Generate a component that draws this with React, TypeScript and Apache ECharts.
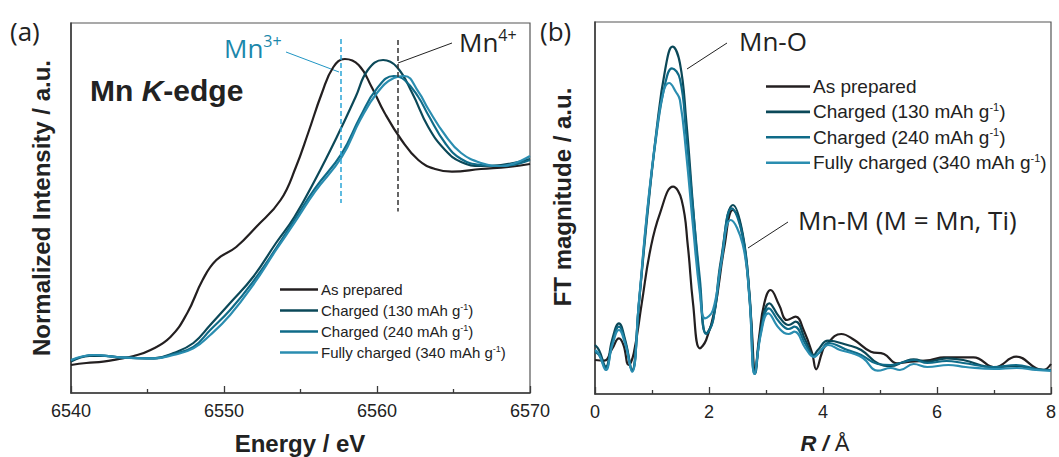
import React, { useEffect, useRef } from "react";
import * as echarts from "echarts";

// ---------- Panel (a): Mn K-edge XANES ----------
const energyAsPrepared = [6540, 6541, 6542.1, 6543, 6544.1, 6545.2, 6546.5, 6547.6, 6548.6, 6549.5, 6550.8, 6552.1, 6553.7, 6554.7, 6555.5, 6556.4, 6557.15, 6557.9, 6558.8, 6559.65, 6560.5, 6561.6, 6562.7, 6563.8, 6564.9, 6566.8, 6568.6, 6570];
const intensityAsPrepared = [-0.01, 0.0, 0.007, 0.018, 0.035, 0.065, 0.13, 0.25, 0.415, 0.515, 0.58, 0.68, 0.815, 0.98, 1.15, 1.35, 1.48, 1.52, 1.49, 1.38, 1.25, 1.115, 1.015, 0.97, 0.957, 0.97, 0.98, 0.995];

const energyCharged130 = [6540, 6541.2, 6542.2, 6543.2, 6545.4, 6546.7, 6548.0, 6549.1, 6550.4, 6551.9, 6553.4, 6554.6, 6555.95, 6557.5, 6558.6, 6559.4, 6560.4, 6561.3, 6562.3, 6563.35, 6564.45, 6565.5, 6566.8, 6568.1, 6570];
const intensityCharged130 = [0.007, 0.035, 0.036, 0.028, 0.023, 0.05, 0.1, 0.19, 0.3, 0.43, 0.6, 0.73, 0.915, 1.15, 1.33, 1.465, 1.515, 1.48, 1.35, 1.18, 1.065, 1.005, 0.985, 0.99, 1.02];

const energyCharged240 = [6540, 6541.5, 6543.2, 6545.4, 6546.7, 6548.0, 6549.1, 6550.4, 6551.9, 6553.4, 6554.6, 6555.95, 6557.7, 6558.9, 6560.0, 6561.1, 6561.8, 6562.7, 6563.35, 6564.45, 6565.5, 6566.8, 6568.1, 6570];
const intensityCharged240 = [0.012, 0.04, 0.028, 0.023, 0.045, 0.08, 0.165, 0.265, 0.407, 0.573, 0.715, 0.873, 1.048, 1.23, 1.373, 1.435, 1.415, 1.33, 1.24, 1.1, 1.02, 0.99, 0.985, 1.015];

const energyFully = [6540, 6541.5, 6543.2, 6545.4, 6546.7, 6548.0, 6549.1, 6550.4, 6551.9, 6553.4, 6554.6, 6555.95, 6557.7, 6558.9, 6560.0, 6561.1, 6561.8, 6562.7, 6563.35, 6564.45, 6565.5, 6566.8, 6568.1, 6570];
const intensityFully = [0.015, 0.04, 0.028, 0.023, 0.04, 0.073, 0.14, 0.24, 0.39, 0.565, 0.7, 0.857, 1.03, 1.215, 1.35, 1.425, 1.435, 1.357, 1.27, 1.14, 1.05, 1.0, 0.985, 1.035];

// Reference edge positions (Mn3+, Mn4+) and the extent of their dashed markers
const markerEnergies = [6557.6, 6561.35];
const markerTop = [1.62, 1.615];
const markerBottom = [0.8, 0.757];

// ---------- Panel (b): FT-EXAFS ----------
const rAsPrepared = [0, 0.16, 0.3, 0.42, 0.5, 0.59, 0.68, 0.82, 0.97, 1.14, 1.37, 1.52, 1.63, 1.72, 1.84, 1.95, 2.1, 2.27, 2.42, 2.53, 2.65, 2.74, 2.81, 2.88, 2.97, 3.08, 3.23, 3.37, 3.52, 3.66, 3.81, 3.88, 3.98, 4.03, 4.32, 4.55, 4.84, 5.07, 5.3, 5.54, 5.88, 6.12, 6.64, 7.01, 7.39, 7.74, 7.86, 8.0];
const ftAsPrepared = [0.34, 0.333, 0.45, 0.557, 0.49, 0.29, 0.407, 0.907, 1.44, 1.807, 2.073, 1.94, 1.473, 0.907, 0.457, 0.54, 0.84, 1.473, 1.84, 1.74, 1.34, 0.74, 0.24, 0.573, 0.907, 1.04, 0.89, 0.74, 0.773, 0.64, 0.407, 0.247, 0.41, 0.473, 0.6, 0.54, 0.423, 0.4, 0.307, 0.323, 0.34, 0.367, 0.367, 0.267, 0.373, 0.257, 0.24, 0.3];

const rCharged130 = [0, 0.07, 0.19, 0.3, 0.42, 0.53, 0.65, 0.77, 0.91, 1.08, 1.23, 1.36, 1.49, 1.6, 1.72, 1.84, 1.95, 2.07, 2.21, 2.42, 2.59, 2.71, 2.81, 2.91, 3.06, 3.23, 3.4, 3.52, 3.69, 3.84, 3.91, 4.09, 4.43, 4.67, 4.96, 5.19, 5.42, 5.59, 5.83, 6.17, 6.46, 6.99, 7.39, 7.74, 8.0];
const ftCharged130 = [0.49, 0.44, 0.273, 0.54, 0.707, 0.54, 0.24, 0.907, 1.74, 2.64, 3.24, 3.473, 3.307, 2.74, 1.873, 1.073, 0.607, 0.74, 1.34, 1.89, 1.607, 1.007, 0.207, 0.64, 0.907, 0.773, 0.69, 0.723, 0.54, 0.39, 0.44, 0.533, 0.49, 0.44, 0.307, 0.28, 0.323, 0.347, 0.323, 0.357, 0.34, 0.267, 0.28, 0.247, 0.24];

const rCharged240 = [0, 0.07, 0.19, 0.3, 0.42, 0.53, 0.65, 0.77, 0.91, 1.08, 1.23, 1.35, 1.49, 1.6, 1.72, 1.84, 1.95, 2.07, 2.21, 2.4, 2.59, 2.71, 2.8, 2.91, 3.05, 3.23, 3.4, 3.5, 3.69, 3.84, 3.95, 4.09, 4.43, 4.67, 4.96, 5.19, 5.42, 5.6, 5.83, 6.17, 6.46, 6.99, 7.39, 7.74, 8.0];
const ftCharged240 = [0.42, 0.39, 0.26, 0.5, 0.673, 0.52, 0.23, 0.9, 1.78, 2.6, 3.1, 3.257, 3.15, 2.6, 1.85, 1.15, 0.6, 0.73, 1.3, 1.857, 1.58, 0.98, 0.2, 0.62, 0.857, 0.723, 0.65, 0.673, 0.5, 0.38, 0.42, 0.51, 0.44, 0.39, 0.3, 0.29, 0.32, 0.34, 0.31, 0.33, 0.31, 0.27, 0.29, 0.25, 0.24];

const rFully = [0, 0.07, 0.19, 0.3, 0.42, 0.53, 0.65, 0.77, 0.91, 1.08, 1.2, 1.3, 1.42, 1.49, 1.6, 1.72, 1.84, 1.93, 2.07, 2.21, 2.38, 2.59, 2.71, 2.8, 2.91, 3.04, 3.23, 3.4, 3.5, 3.69, 3.84, 3.98, 4.09, 4.3, 4.5, 4.7, 4.96, 5.19, 5.35, 5.59, 5.83, 6.2, 6.5, 7.0, 7.4, 7.74, 8.0];
const ftFully = [0.44, 0.4, 0.24, 0.48, 0.64, 0.5, 0.22, 0.92, 1.8, 2.62, 3.02, 3.11, 3.02, 2.94, 2.407, 1.673, 1.007, 0.757, 0.84, 1.3, 1.74, 1.5, 0.95, 0.2, 0.6, 0.807, 0.657, 0.6, 0.623, 0.46, 0.37, 0.45, 0.49, 0.44, 0.41, 0.36, 0.233, 0.26, 0.24, 0.3, 0.27, 0.29, 0.27, 0.25, 0.26, 0.24, 0.23];

const seriesNames = ["As prepared", "Charged (130 mAh g-1)", "Charged (240 mAh g-1)", "Fully charged (340 mAh g-1)"];
const legendLabels = ["As prepared", "Charged (130 mAh g{sup|-1})", "Charged (240 mAh g{sup|-1})", "Fully charged (340 mAh g{sup|-1})"];
const seriesColors = ["#231f20", "#0b4858", "#0f6b88", "#2a8db0"];

const energyTicks = { min: 6540, max: 6570, interval: 10 };
const rTicks = { min: 0, max: 8, interval: 2 };

const SANS = "'Liberation Sans', Arial, sans-serif";
const OPEN = "'Open Sans', 'DejaVu Sans', sans-serif";

const pairs = (xs: number[], ys: number[]) => xs.map((x, i) => [x, ys[i]]);

export default function App() {
  const ref = useRef<HTMLDivElement>(null);

  useEffect(() => {
    if (!ref.current) return;
    const chart = echarts.init(ref.current, undefined, { renderer: "svg" });

    const xAxisCommon = (min: number, max: number, interval: number, gridIndex: number) => ({
      type: "value",
      gridIndex,
      min,
      max,
      interval,
      axisLine: { show: true, onZero: false, lineStyle: { color: "#3a3a3a", width: 1.5 } },
      axisTick: { show: true, inside: true, length: 7, lineStyle: { color: "#3a3a3a", width: 1.3 } },
      minorTick: { show: true, splitNumber: 2, length: 4, lineStyle: { color: "#3a3a3a", width: 1.3 } },
      axisLabel: { show: true, margin: 9, fontSize: 18, fontFamily: SANS, color: "#222", formatter: (v: number) => String(v) },
      splitLine: { show: false },
      minorSplitLine: { show: false },
    });

    const yAxisCommon = (min: number, max: number, gridIndex: number) => ({
      type: "value",
      gridIndex,
      min,
      max,
      axisLine: { show: true, onZero: false, lineStyle: { color: "#3a3a3a", width: 1.5 } },
      axisTick: { show: false },
      axisLabel: { show: false },
      splitLine: { show: false },
    });

    const lineSeries = (name: string, color: string, data: number[][], axisIndex: number, extra: any = {}) => ({
      type: "line",
      name,
      xAxisIndex: axisIndex,
      yAxisIndex: axisIndex,
      data,
      symbol: "none",
      smooth: 0.45,
      lineStyle: { color, width: 2.2 },
      itemStyle: { color },
      z: 3,
      ...extra,
    });

    const legendCommon = (left: number, top: number, fontSize: number, lineHeight: number, gap: number, itemWidth: number) => ({
      orient: "vertical",
      left,
      top,
      itemWidth,
      itemHeight: 2.6,
      itemGap: gap,
      icon: "rect",
      data: seriesNames,
      formatter: (name: string) => legendLabels[seriesNames.indexOf(name)],
      textStyle: {
        fontSize,
        lineHeight,
        fontFamily: SANS,
        color: "#222",
        padding: [0, 0, 0, -2],
        rich: {
          sup: { fontSize: Math.round(fontSize * 0.6), lineHeight: Math.round(lineHeight * 0.55), verticalAlign: "top", fontFamily: SANS, color: "#222" },
        },
      },
    });

    const markLineData = markerEnergies.map((e, i) => [
      {
        coord: [e, markerTop[i]],
        lineStyle: { color: i === 0 ? "#2aa5d6" : "#333333", width: 1.5, type: [5, 3] },
      },
      { coord: [e, markerBottom[i]] },
    ]);

    const option: any = {
      animation: false,
      backgroundColor: "#ffffff",
      grid: [
        { left: 71, top: 23, width: 459, height: 370, show: true, borderColor: "#555", borderWidth: 1.2, backgroundColor: "transparent" },
        { left: 595, top: 22, width: 460, height: 372, show: true, borderColor: "#555", borderWidth: 1.2, backgroundColor: "transparent" },
      ],
      xAxis: [
        xAxisCommon(energyTicks.min, energyTicks.max, energyTicks.interval, 0),
        xAxisCommon(rTicks.min, rTicks.max, rTicks.interval, 1),
      ],
      yAxis: [yAxisCommon(-0.15, 1.7, 0), yAxisCommon(0, 3.72, 1)],
      legend: [
        legendCommon(275, 276, 15, 17, 4, 38),
        legendCommon(761, 71, 19, 21, 4.4, 44),
      ],
      series: [
        lineSeries(seriesNames[0], seriesColors[0], pairs(energyAsPrepared, intensityAsPrepared), 0, {
          markLine: { symbol: "none", silent: true, label: { show: false }, data: markLineData },
        }),
        lineSeries(seriesNames[1], seriesColors[1], pairs(energyCharged130, intensityCharged130), 0),
        lineSeries(seriesNames[2], seriesColors[2], pairs(energyCharged240, intensityCharged240), 0),
        lineSeries(seriesNames[3], seriesColors[3], pairs(energyFully, intensityFully), 0),
        lineSeries(seriesNames[0], seriesColors[0], pairs(rAsPrepared, ftAsPrepared), 1),
        lineSeries(seriesNames[1], seriesColors[1], pairs(rCharged130, ftCharged130), 1),
        lineSeries(seriesNames[2], seriesColors[2], pairs(rCharged240, ftCharged240), 1),
        lineSeries(seriesNames[3], seriesColors[3], pairs(rFully, ftFully), 1),
      ],
      graphic: [
        // panel letters
        { type: "text", x: 10, y: 31, style: { text: "(a)", font: `26px ${OPEN}`, fill: "#222", verticalAlign: "middle", align: "left" } },
        { type: "text", x: 540, y: 31, style: { text: "(b)", font: `26px ${OPEN}`, fill: "#222", verticalAlign: "middle", align: "left" } },
        // axis titles
        { type: "text", x: 41, y: 208, rotation: Math.PI / 2, style: { text: "Normalized Intensity / a.u.", font: `bold 24px ${SANS}`, fill: "#222", align: "center", verticalAlign: "middle" } },
        { type: "text", x: 562, y: 197, rotation: Math.PI / 2, style: { text: "FT magnitude / a.u.", font: `bold 24px ${SANS}`, fill: "#222", align: "center", verticalAlign: "middle" } },
        { type: "text", x: 300, y: 443, style: { text: "Energy / eV", font: `bold 24px ${SANS}`, fill: "#222", align: "center", verticalAlign: "middle" } },
        {
          type: "text", x: 825, y: 443,
          style: {
            text: "{i|R /} {n|Å}", align: "center", verticalAlign: "middle",
            rich: {
              i: { fontSize: 22, fontWeight: "bold", fontStyle: "italic", fontFamily: SANS, fill: "#222" },
              n: { fontSize: 22, fontFamily: SANS, fill: "#222" },
            },
            font: `22px ${SANS}`,
          },
        },
        // Mn K-edge label
        {
          type: "text", x: 90, y: 90,
          style: {
            text: "{a|Mn }{b|K}{a|-edge}", align: "left", verticalAlign: "middle",
            rich: {
              a: { fontSize: 30, fontWeight: "bold", fontFamily: SANS, fill: "#222" },
              b: { fontSize: 30, fontWeight: "bold", fontStyle: "italic", fontFamily: SANS, fill: "#222" },
            },
            font: `bold 30px ${SANS}`,
          },
        },
        // Mn3+ / Mn4+ labels
        {
          type: "text", x: 224, y: 48,
          style: {
            text: "{m|Mn}{s|3+}", align: "left", verticalAlign: "middle",
            rich: {
              m: { fontSize: 26, lineHeight: 30, fontFamily: OPEN, fill: "#1b87ab" },
              s: { fontSize: 16, lineHeight: 16, verticalAlign: "top", fontFamily: OPEN, fill: "#1b87ab" },
            },
            font: `26px ${OPEN}`,
          },
        },
        {
          type: "text", x: 459, y: 42,
          style: {
            text: "{m|Mn}{s|4+}", align: "left", verticalAlign: "middle",
            rich: {
              m: { fontSize: 26, lineHeight: 30, fontFamily: OPEN, fill: "#222" },
              s: { fontSize: 16, lineHeight: 16, verticalAlign: "top", fontFamily: OPEN, fill: "#222" },
            },
            font: `26px ${OPEN}`,
          },
        },
        { type: "line", shape: { x1: 286, y1: 52, x2: 339, y2: 72 }, style: { stroke: "#2196c4", lineWidth: 1 } },
        { type: "line", shape: { x1: 452, y1: 43, x2: 398, y2: 63 }, style: { stroke: "#222", lineWidth: 1 } },
        // Mn-O / Mn-M labels
        { type: "text", x: 739, y: 41, style: { text: "Mn-O", font: `26px ${OPEN}`, fill: "#222", align: "left", verticalAlign: "middle" } },
        { type: "text", x: 798, y: 220, style: { text: "Mn-M (M = Mn, Ti)", font: `26px ${OPEN}`, fill: "#222", align: "left", verticalAlign: "middle" } },
        { type: "line", shape: { x1: 727, y1: 43, x2: 687, y2: 69 }, style: { stroke: "#222", lineWidth: 1 } },
        { type: "line", shape: { x1: 788, y1: 222, x2: 748, y2: 248 }, style: { stroke: "#222", lineWidth: 1 } },
      ],
    };

    chart.setOption(option);
    return () => chart.dispose();
  }, []);

  return (
    <div
      ref={ref}
      style={{ position: "fixed", left: 0, top: 0, width: 1059, height: 457, background: "#fff" }}
    />
  );
}
